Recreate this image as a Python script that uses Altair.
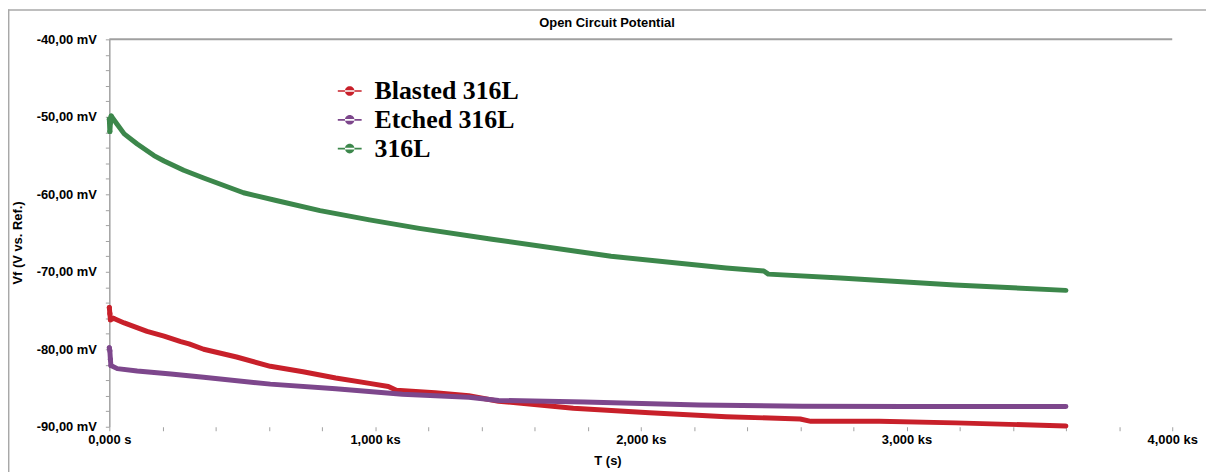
import altair as alt
import pandas as pd

# ---------------- data ----------------
series_names = ["Blasted 316L", "Etched 316L", "316L"]
series_colors = ["#C8202A", "#7D478C", "#3C874B"]

t_blasted = [0, 2, 4, 15, 56, 142, 206, 269, 300, 355, 479, 606, 729, 852, 979,
             1050, 1080, 1226, 1353, 1465, 1746, 2033, 2321, 2600, 2640, 2897, 3185, 3600]
v_blasted = [-74.6, -75.4, -76.2, -76.0, -76.6, -77.7, -78.3, -79.0, -79.3, -80.0, -81.0,
             -82.2, -82.9, -83.7, -84.4, -84.8, -85.3, -85.6, -86.0, -86.7, -87.6, -88.2,
             -88.7, -89.0, -89.3, -89.3, -89.5, -89.9]

t_etched = [0, 2, 4, 6, 30, 105, 232, 355, 606, 852, 1103, 1353, 1465, 1788, 2220, 2609, 3000, 3600]
v_etched = [-79.8, -80.2, -81.3, -82.1, -82.5, -82.8, -83.2, -83.6, -84.5, -85.1, -85.8,
            -86.2, -86.6, -86.8, -87.2, -87.35, -87.4, -87.4]

t_316 = [0, 2, 4, 7, 28, 56, 105, 168, 206, 280, 355, 505, 628, 793, 979, 1166, 1440,
         1888, 2321, 2463, 2480, 2751, 3181, 3600]
v_316 = [-50.3, -51.9, -50.8, -49.9, -50.9, -52.2, -53.5, -55.0, -55.7, -56.9, -57.9,
         -59.8, -60.8, -62.1, -63.3, -64.4, -65.8, -68.0, -69.5, -69.9, -70.3, -70.8,
         -71.7, -72.4]

x_tick_values = list(range(0, 4001, 200))
x_major = [0, 1000, 2000, 3000, 4000]
x_major_labels = ["0,000 s", "1,000 ks", "2,000 ks", "3,000 ks", "4,000 ks"]

y_tick_values = list(range(-90, -39, 2))
y_major = [-90, -80, -70, -60, -50, -40]
y_major_labels = ["-90,00 mV", "-80,00 mV", "-70,00 mV", "-60,00 mV", "-50,00 mV", "-40,00 mV"]

chart_title = "Open Circuit Potential"
x_title = "T (s)"
y_title = "Vf (V vs. Ref.)"

# ---------------- build table ----------------
rows = []
for name, ts, vs in [(series_names[0], t_blasted, v_blasted),
                     (series_names[1], t_etched, v_etched),
                     (series_names[2], t_316, v_316)]:
    for i, (t, v) in enumerate(zip(ts, vs)):
        rows.append({"series": name, "t": t, "v": v, "order": i})
df = pd.DataFrame(rows)


def label_expr(values, labels):
    expr = "''"
    for val, lab in reversed(list(zip(values, labels))):
        expr = f"datum.value == {val} ? '{lab}' : ({expr})"
    return expr


W, H = 1070, 390
FONT = "Liberation Sans"
GRAY = "#A0A0A0"

x_scale = alt.Scale(domain=[0, 4000], nice=False, zero=False)
y_scale = alt.Scale(domain=[-90, -40], nice=False, zero=False)
color_scale = alt.Scale(domain=series_names, range=series_colors)

x_axis = alt.Axis(values=x_tick_values, labelExpr=label_expr(x_major, x_major_labels),
                  title=None, grid=False, domain=False, tickColor=GRAY, tickSize=4,
                  tickWidth=1, labelFont=FONT, labelFontWeight="bold", labelFontSize=13,
                  labelColor="black", labelPadding=3, labelOverlap=False, labelFlush=False)
y_axis = alt.Axis(values=y_tick_values, labelExpr=label_expr(y_major, y_major_labels),
                  title=None, grid=False, domain=True, domainColor=GRAY, domainWidth=1.5,
                  tickColor=GRAY, tickSize=4, tickWidth=1, labelFont=FONT,
                  labelFontWeight="bold", labelFontSize=13, labelColor="black",
                  labelPadding=9, labelOverlap=False, labelFlush=False, labelBaseline="middle")

legend_symbol = ("M-1,-0.07L1,-0.07L1,0.07L-1,0.07Z "
                 "M-0.4,0A0.4,0.4 0 1,0 0.4,0A0.4,0.4 0 1,0 -0.4,0Z")
legend = alt.Legend(orient="none", legendX=229, legendY=39, title=None,
                    labelFont="Liberation Serif", labelFontWeight="bold", labelFontSize=26,
                    labelColor="black", symbolType=legend_symbol, symbolSize=576,
                    symbolStrokeWidth=0, labelOffset=12, rowPadding=3, padding=0,
                    labelLimit=400)

base = alt.Chart(df)

points = base.mark_circle(size=26, opacity=1).encode(
    x=alt.X("t:Q", scale=x_scale, axis=x_axis),
    y=alt.Y("v:Q", scale=y_scale, axis=y_axis),
    color=alt.Color("series:N", scale=color_scale, legend=legend),
).transform_filter(alt.datum.t <= 15)

lines = base.mark_line(strokeWidth=5, strokeJoin="round", strokeCap="round").encode(
    x=alt.X("t:Q", scale=x_scale, axis=x_axis),
    y=alt.Y("v:Q", scale=y_scale, axis=y_axis),
    color=alt.Color("series:N", scale=color_scale, legend=None),
    detail="series:N",
    order="order:Q",
)

top_rule = alt.Chart(pd.DataFrame({"a": [0]})).mark_rule(color=GRAY, strokeWidth=2).encode(
    y=alt.value(0), x=alt.value(0), x2=alt.value(W))

border_top = alt.Chart(pd.DataFrame({"a": [0]})).mark_rule(color="#A8A8A8", strokeWidth=1.5).encode(
    y=alt.value(-29.5), x=alt.value(-102), x2=alt.value(W + 40))
border_left = alt.Chart(pd.DataFrame({"a": [0]})).mark_rule(color="#A8A8A8", strokeWidth=1.5).encode(
    x=alt.value(-101.3), y=alt.value(-30), y2=alt.value(H + 50))

title_txt = alt.Chart(pd.DataFrame({"s": [chart_title]})).mark_text(
    font=FONT, fontWeight="bold", fontSize=13, color="black", align="center",
    baseline="middle").encode(x=alt.value(501), y=alt.value(-16), text="s:N")

xtitle_txt = alt.Chart(pd.DataFrame({"s": [x_title]})).mark_text(
    font=FONT, fontWeight="bold", fontSize=13, color="black", align="center",
    baseline="middle").encode(x=alt.value(502), y=alt.value(425), text="s:N")

ytitle_txt = alt.Chart(pd.DataFrame({"s": [y_title]})).mark_text(
    font=FONT, fontWeight="bold", fontSize=13, color="black", align="center",
    baseline="middle", angle=270).encode(x=alt.value(-92), y=alt.value(205), text="s:N")

chart = alt.layer(
    border_top, border_left, top_rule, points, lines, title_txt, xtitle_txt, ytitle_txt
).properties(
    width=W, height=H,
    autosize=alt.AutoSizeParams(type="none"),
    padding={"left": 102, "top": 30, "right": 34, "bottom": 44},
    background="white",
).configure_view(stroke=None)

chart.save("out.html", embed_options={"renderer": "svg", "actions": False})
